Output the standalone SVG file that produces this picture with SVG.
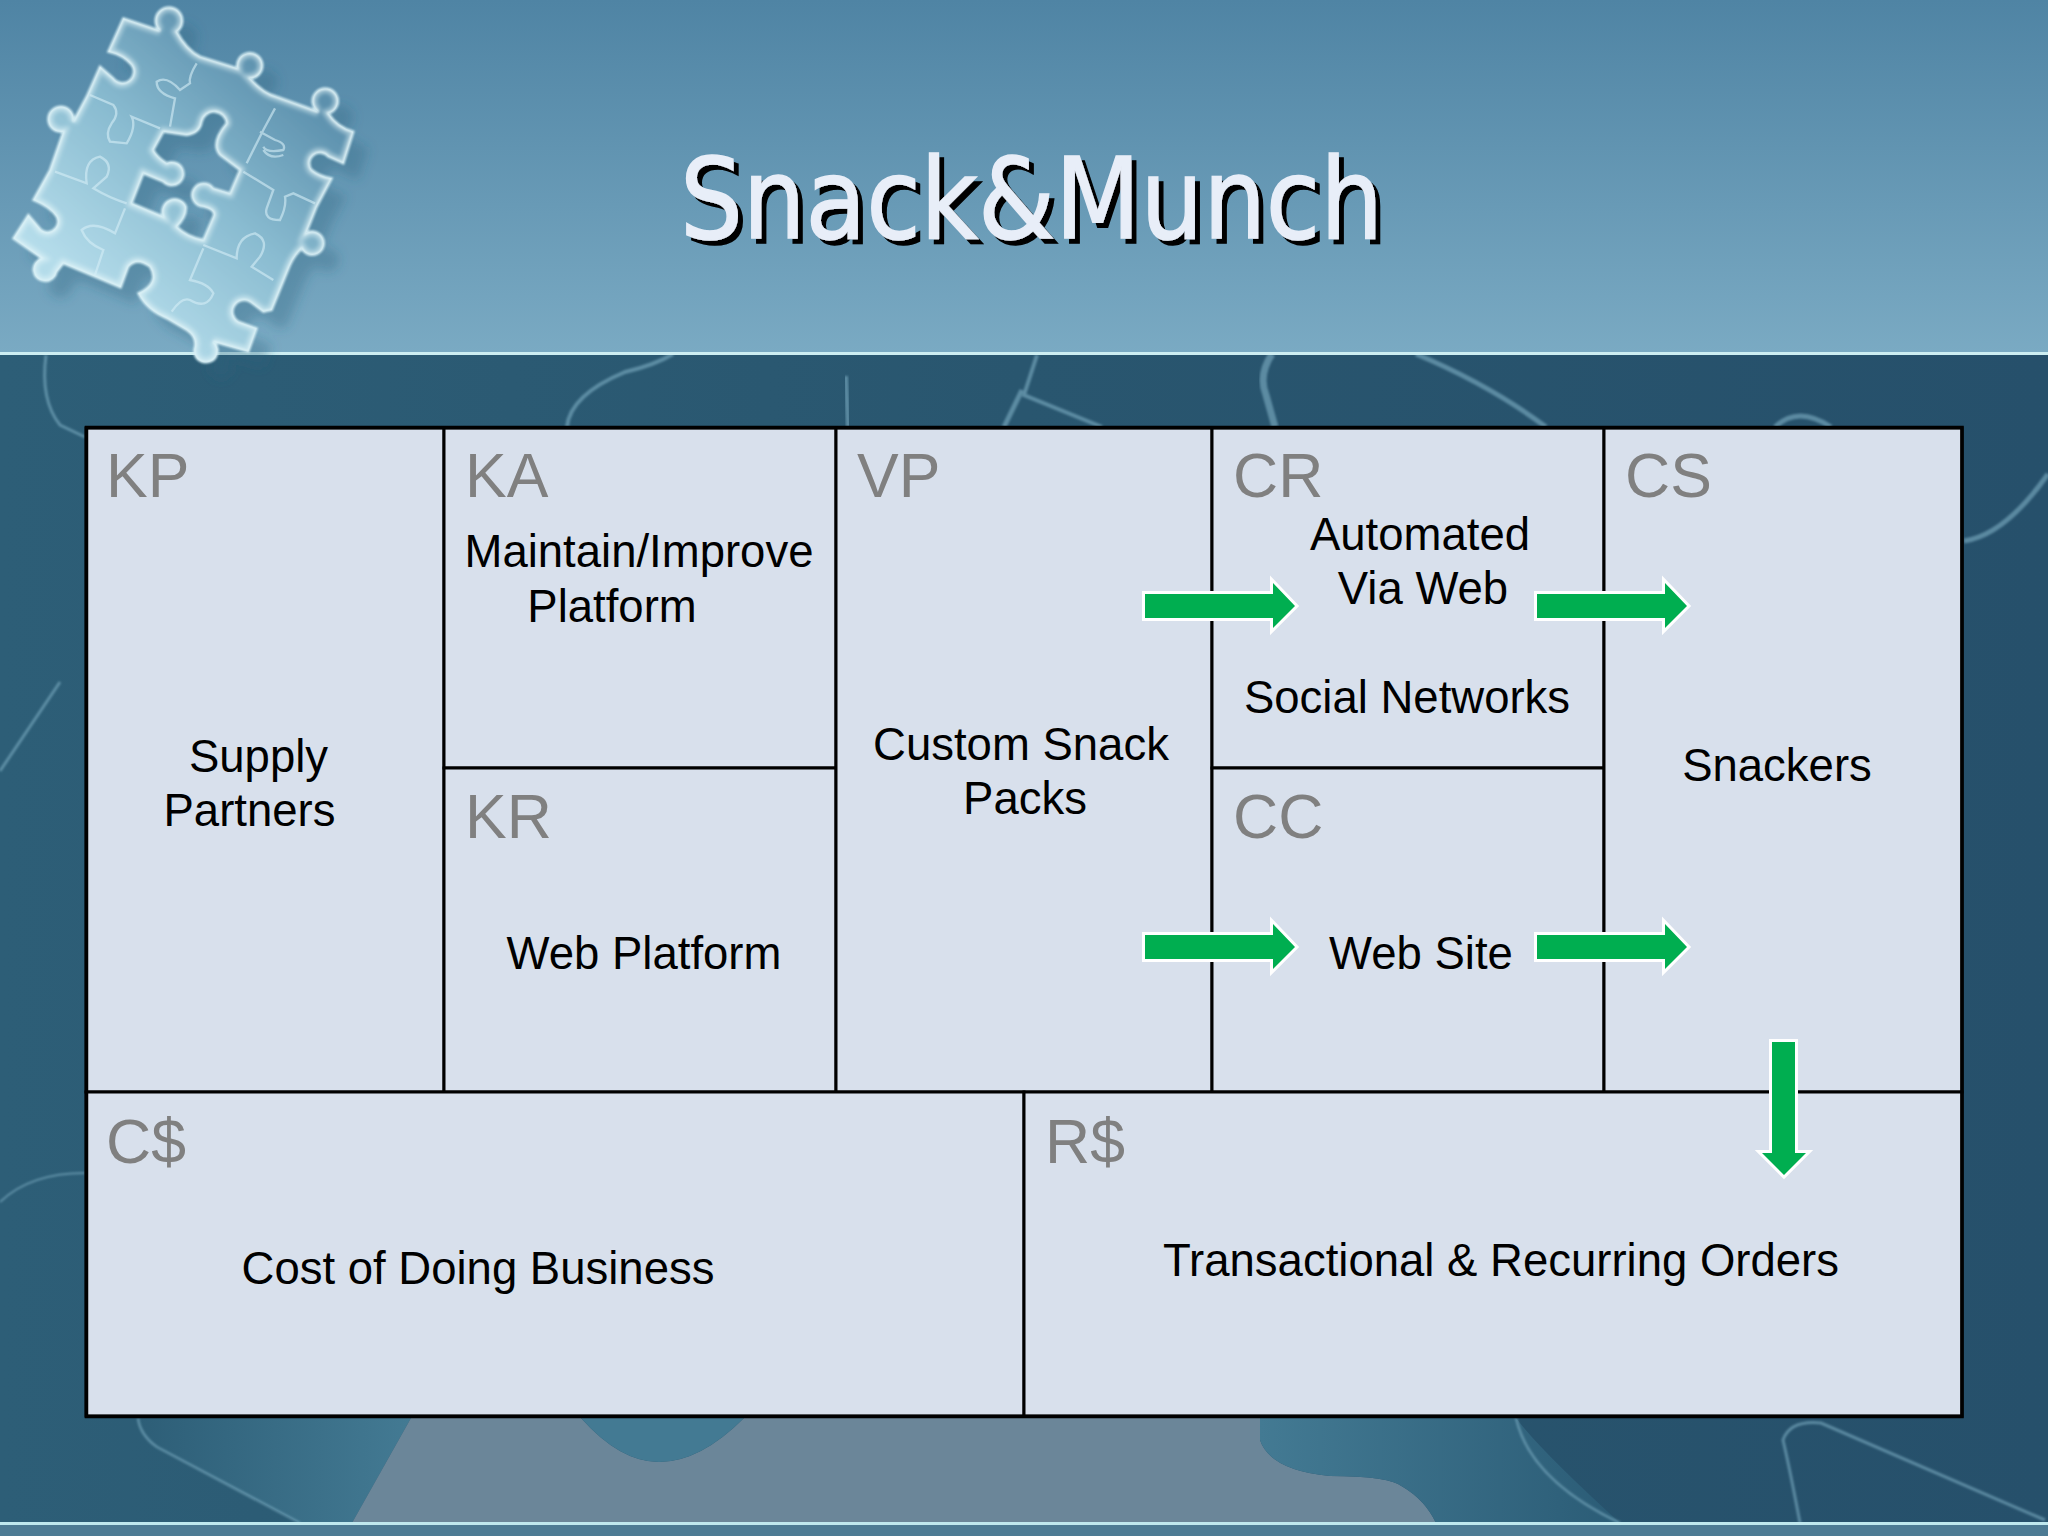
<svg xmlns="http://www.w3.org/2000/svg" width="2048" height="1536" viewBox="0 0 2048 1536">
<style>
.lab{font-family:"Liberation Sans",Arial,sans-serif;font-size:62.500px;fill:#808080}
.txt{font-family:"Liberation Sans",Arial,sans-serif;font-size:45.500px;fill:#000;text-anchor:middle}
.cell{fill:#d8e0ec;stroke:#000;stroke-width:3}
.arrow{fill:#00ae50;stroke:#fff;stroke-width:6;stroke-linejoin:miter;paint-order:stroke}
.bgl{fill:none;stroke:#7fafc4;stroke-opacity:.6;filter:url(#b1)}
.seam{fill:none;stroke:#d5eff6;stroke-width:7;stroke-opacity:.6;filter:url(#b2)}
.title{font-family:"DejaVu Sans",Verdana,sans-serif;font-size:113px}
</style>
<defs>
<linearGradient id="top" x1="0" y1="0" x2="0" y2="1"><stop offset="0" stop-color="#4f84a4"/><stop offset="1" stop-color="#7aaac3"/></linearGradient>
<linearGradient id="dark" x1="0" y1="0" x2="1" y2="0"><stop offset="0" stop-color="#2d5e77"/><stop offset=".5" stop-color="#29566f"/><stop offset="1" stop-color="#26506b"/></linearGradient>
<linearGradient id="pz" gradientUnits="userSpaceOnUse" x1="850" y1="220" x2="280" y2="880"><stop offset="0" stop-color="#5c90ad"/><stop offset=".5" stop-color="#8abcd1"/><stop offset="1" stop-color="#b4dcea"/></linearGradient>
<linearGradient id="teal" x1="0" y1="0" x2="1" y2="0"><stop offset="0" stop-color="#2d5e77"/><stop offset="1" stop-color="#437a93"/></linearGradient>
<linearGradient id="teal2" x1="0" y1="0" x2="1" y2="0"><stop offset="0" stop-color="#437a93"/><stop offset="1" stop-color="#2b5c76"/></linearGradient>
<filter id="soft" x="-20%" y="-20%" width="140%" height="140%"><feGaussianBlur stdDeviation="16"/></filter>
<filter id="glow" x="-5%" y="-5%" width="110%" height="110%"><feGaussianBlur stdDeviation="2.500"/></filter>
<filter id="wide" x="-5%" y="-5%" width="110%" height="110%"><feGaussianBlur stdDeviation="7"/></filter>
<filter id="b1" x="-30%" y="-30%" width="160%" height="160%"><feGaussianBlur stdDeviation=".8"/></filter>
<filter id="b2" x="-30%" y="-30%" width="160%" height="160%"><feGaussianBlur stdDeviation="1.500"/></filter>
<filter id="ts" x="-5%" y="-10%" width="110%" height="125%"><feDropShadow dx="5" dy="5" stdDeviation=".4" flood-color="#000"/></filter>
<clipPath id="pc"><use href="#pzl"/></clipPath>
<path id="pzl" fill-rule="evenodd" clip-rule="evenodd" d="M370,55 L480,92 A40,40 0 1 1 530,95 Q560,150 600,170 L712,205 A38,38 0 1 1 750,235 Q790,280 830,290 L955,335 A38,38 0 1 1 985,340 Q1010,380 1060,395 L1030,490 L985,470 A30,30 0 0 0 935,510 Q960,530 995,535 L950,620 L918,700 A35,35 0 1 1 905,745 Q880,770 868,800 L815,930 L790,935 L750,905 A30,30 0 0 0 715,965 L770,985 L745,1055 L640,1025 A35,35 0 1 1 585,1040 Q590,1010 560,990 L500,955 Q440,930 415,880 Q480,850 450,800 Q410,770 385,800 L362,862 L190,790 L170,815 A35,35 0 1 1 125,775 L40,715 L85,645 L115,680 A30,30 0 0 0 170,650 Q150,620 100,600 L150,510 L190,395 A38,38 0 1 1 220,365 L260,290 L300,200 L340,235 A30,30 0 0 0 395,195 Q370,165 325,155 Z
M490,395 L560,405 Q600,400 605,365 A38,38 0 0 1 680,370 Q630,430 660,465 L720,510 L690,580 L640,565 A35,35 0 1 0 610,620 Q650,630 640,650 L610,720 Q560,710 530,680 Q560,650 558,620 A35,35 0 1 0 490,650 L395,610 L430,520 L490,545 A35,35 0 1 0 500,490 Q470,470 460,450 Z"/>
</defs>
<g id="background">
<rect x="0" y="354" width="2048" height="1170" fill="url(#dark)"/>
<rect x="0" y="0" width="2048" height="353" fill="url(#top)"/>
<rect x="0" y="1524" width="2048" height="12" fill="#4d7b94"/>
<path d="M138,1418 Q140,1435 157,1447 L300,1523 L352,1523 L411,1418 Z" fill="url(#teal)"/>
<path d="M411,1418 L352,1523 L1436,1523 Q1425,1500 1403,1487 Q1390,1476 1330,1476 Q1270,1470 1260,1440 L1260,1418 L744,1418 Q700,1462 659,1462 Q620,1462 581,1418 Z" fill="#6b8699"/>
<path d="M581,1418 Q620,1462 659,1462 Q700,1462 744,1418 Z" fill="#437a93"/>
<path d="M1260,1418 L1260,1440 Q1270,1470 1330,1476 Q1390,1476 1403,1487 Q1425,1500 1436,1523 L1620,1523 Q1540,1450 1516,1418 Z" fill="url(#teal2)"/>
<path class="bgl" stroke-width="2.500" d="M138,1418 Q140,1435 157,1447 L300,1523"/>
<path class="bgl" stroke-width="2.500" d="M1516,1418 Q1530,1480 1620,1523"/>
<path class="bgl" stroke-width="3" d="M1800,1523 Q1790,1470 1783,1440 Q1790,1420 1821,1423 L2045,1520"/>
<path class="bgl" stroke-width="3" d="M46,355 Q40,400 60,425 L85,437"/>
<path class="bgl" stroke-width="4" d="M673,354 Q655,365 625,372 Q570,395 567,427"/>
<path class="bgl" stroke-width="4" d="M846,376 L848,427"/>
<path class="bgl" stroke-width="5" d="M1022,390 L1004,427"/>
<path class="bgl" stroke-width="4" d="M1037,355 L1024,395 L1102,427"/>
<path class="bgl" stroke-width="7" d="M1272,354 Q1258,375 1266,395 L1275,427"/>
<path class="bgl" stroke-width="5" d="M1416,354 Q1490,385 1546,427"/>
<path class="bgl" stroke-width="5" d="M1775,427 Q1798,405 1831,427"/>
<path class="bgl" stroke-width="3" d="M0,771 L60,682"/>
<path class="bgl" stroke-width="2" d="M0,1202 Q30,1173 85,1173" stroke-opacity=".25"/>
<path class="bgl" stroke-width="5" d="M1964,541 Q2005,535 2048,474"/>
<rect x="0" y="352" width="2048" height="3" fill="#cdeef2"/>
<rect x="0" y="1522" width="2048" height="3" fill="#bfe8ee"/>
<g id="puzzle" transform="scale(.33333)">
<use href="#pzl" fill="#2f5f7c" fill-opacity=".32" filter="url(#soft)" transform="translate(45,50)"/>
<use href="#pzl" fill="url(#pz)" stroke="#d8f0f6" stroke-width="7" filter="url(#glow)"/>
<g clip-path="url(#pc)"><use href="#pzl" fill="none" stroke="#e4f6fa" stroke-opacity=".55" stroke-width="26" filter="url(#wide)"/></g>
<path class="seam" d="M590,190 Q565,230 570,250 L540,270 Q500,225 470,245 Q470,280 525,295 L510,380"/>
<path class="seam" d="M780,395 L825,420 Q860,430 850,450 Q800,460 790,440 M790,450 Q810,480 850,465 M825,325 L790,390 L740,490"/>
<path class="seam" d="M270,285 L340,315 Q360,340 335,370 Q315,400 330,425 L380,430 Q410,380 395,350 L480,385"/>
<path class="seam" d="M165,515 L260,550 Q250,480 300,470 Q340,490 320,530 L280,565 Q330,595 380,610"/>
<path class="seam" d="M730,515 L820,570 L800,625 Q790,660 840,660 Q860,620 855,590 L880,580 L945,610"/>
<path class="seam" d="M375,625 L345,700 Q280,660 245,690 Q260,730 310,750 L285,825"/>
<path class="seam" d="M610,735 L710,775 Q710,710 765,700 Q810,720 780,770 L755,800 L820,840"/>
<path class="seam" d="M610,745 L570,840 Q625,850 640,880 Q620,930 570,900 Q545,890 515,935"/>
</g>
</g>
<g id="title">
<text class="title" x="680" y="238" textLength="703" lengthAdjust="spacingAndGlyphs" fill="#e8eef8" stroke="#e8eef8" stroke-width="1.500" filter="url(#ts)">Snack&amp;Munch</text>
</g>
<g id="KP"><rect class="cell" x="86" y="428" width="358" height="664"/><text class="lab" x="106" y="497">KP</text><text class="txt" x="258.500" y="772">Supply</text><text class="txt" x="249.500" y="826">Partners</text></g>
<g id="KA"><rect class="cell" x="444" y="428" width="392" height="340"/><text class="lab" x="465" y="497">KA</text><text class="txt" x="639" y="567">Maintain/Improve</text><text class="txt" x="612" y="622">Platform</text></g>
<g id="KR"><rect class="cell" x="444" y="768" width="392" height="324"/><text class="lab" x="465" y="838">KR</text><text class="txt" x="644" y="969">Web Platform</text></g>
<g id="VP"><rect class="cell" x="836" y="428" width="376" height="664"/><text class="lab" x="857" y="497">VP</text><text class="txt" x="1021" y="760">Custom Snack</text><text class="txt" x="1025" y="814">Packs</text></g>
<g id="CR"><rect class="cell" x="1212" y="428" width="392" height="340"/><text class="lab" x="1233" y="497">CR</text><text class="txt" x="1420" y="550">Automated</text><text class="txt" x="1423" y="604">Via Web</text><text class="txt" x="1407" y="713">Social Networks</text></g>
<g id="CC"><rect class="cell" x="1212" y="768" width="392" height="324"/><text class="lab" x="1233" y="838">CC</text><text class="txt" x="1421" y="969">Web Site</text></g>
<g id="CS"><rect class="cell" x="1604" y="428" width="358" height="664"/><text class="lab" x="1625" y="497">CS</text><text class="txt" x="1777" y="781">Snackers</text></g>
<g id="Cost"><rect class="cell" x="86" y="1092" width="938" height="324"/><text class="lab" x="106" y="1163">C$</text><text class="txt" x="478" y="1284">Cost of Doing Business</text></g>
<g id="Revenue"><rect class="cell" x="1024" y="1092" width="938" height="324"/><text class="lab" x="1045" y="1163">R$</text><text class="txt" x="1501" y="1276">Transactional &amp; Recurring Orders</text></g>
<rect x="86.500" y="427.500" width="1875.500" height="989" fill="none" stroke="#000" stroke-width="3.500"/>
<g id="connectors">
<path class="arrow" id="a1" d="M1145,594 H1273 V583 L1295,606 L1273,628 V618 H1145 Z"/>
<path class="arrow" id="a2" d="M1537,594 H1665 V583 L1687,606 L1665,628 V618 H1537 Z"/>
<path class="arrow" id="a3" d="M1145,935 H1273 V924 L1295,947 L1273,969 V959 H1145 Z"/>
<path class="arrow" id="a4" d="M1537,935 H1665 V924 L1687,947 L1665,969 V959 H1537 Z"/>
<path class="arrow" id="a5" d="M1772,1042 H1795 V1153 H1806 L1784,1175 L1762,1153 H1772 Z"/>
</g>
</svg>
